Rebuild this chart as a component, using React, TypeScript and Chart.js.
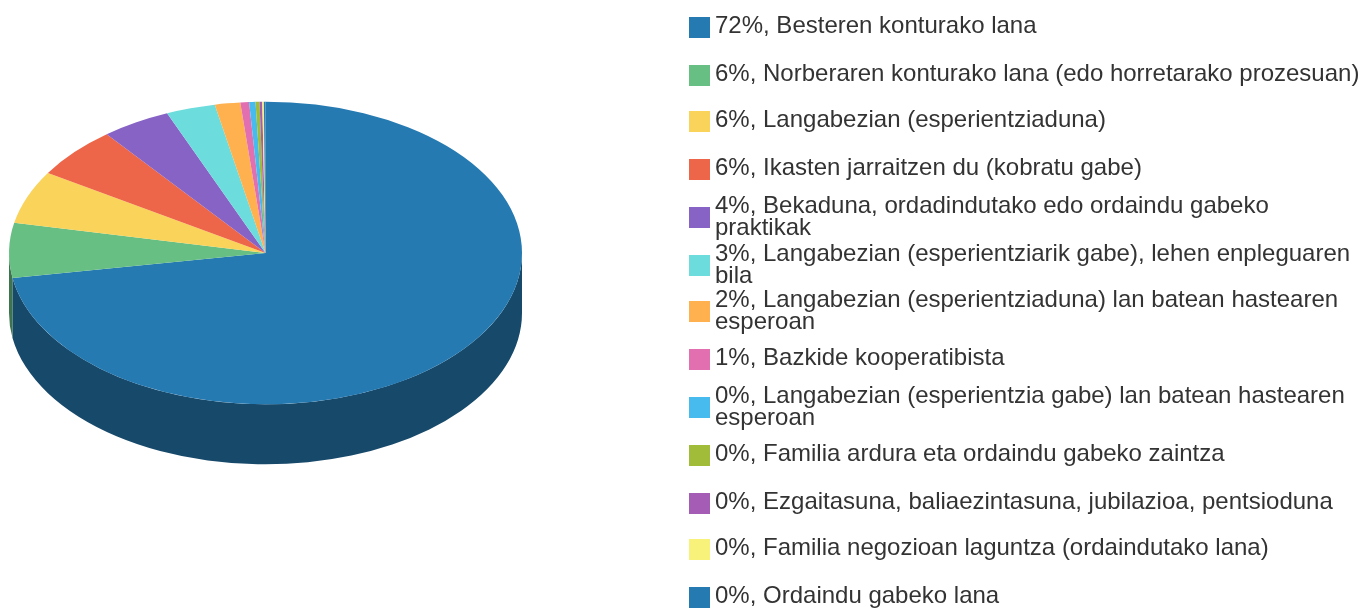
import React, { useEffect, useRef } from "react";
import { Chart, registerables } from "chart.js";

Chart.register(...registerables);

const categories: string[] = [
  "Besteren konturako lana",
  "Norberaren konturako lana (edo horretarako prozesuan)",
  "Langabezian (esperientziaduna)",
  "Ikasten jarraitzen du (kobratu gabe)",
  "Bekaduna, ordadindutako edo ordaindu gabeko praktikak",
  "Langabezian (esperientziarik gabe), lehen enpleguaren bila",
  "Langabezian (esperientziaduna) lan batean hastearen esperoan",
  "Bazkide kooperatibista",
  "Langabezian (esperientzia gabe) lan batean hastearen esperoan",
  "Familia ardura eta ordaindu gabeko zaintza",
  "Ezgaitasuna, baliaezintasuna, jubilazioa, pentsioduna",
  "Familia negozioan laguntza (ordaindutako lana)",
  "Ordaindu gabeko lana",
];
const values: number[] = [72.4, 5.85, 5.67, 5.5, 4.36, 3.1, 1.6, 0.55, 0.4, 0.25, 0.17, 0.1, 0.1];
const colors: string[] = [
  "#267ab2", "#68bf84", "#f9d35a", "#ee6649", "#8763c6", "#6ddcdc", "#ffb14f",
  "#e26fb0", "#48bbee", "#a0bc38", "#a55cb5", "#f8f27a", "#267ab2",
];
const legendLines: string[][] = [
  ["72%, Besteren konturako lana"],
  ["6%, Norberaren konturako lana (edo horretarako prozesuan)"],
  ["6%, Langabezian (esperientziaduna)"],
  ["6%, Ikasten jarraitzen du (kobratu gabe)"],
  ["4%, Bekaduna, ordadindutako edo ordaindu gabeko", "praktikak"],
  ["3%, Langabezian (esperientziarik gabe), lehen enpleguaren", "bila"],
  ["2%, Langabezian (esperientziaduna) lan batean hastearen", "esperoan"],
  ["1%, Bazkide kooperatibista"],
  ["0%, Langabezian (esperientzia gabe) lan batean hastearen", "esperoan"],
  ["0%, Familia ardura eta ordaindu gabeko zaintza"],
  ["0%, Ezgaitasuna, baliaezintasuna, jubilazioa, pentsioduna"],
  ["0%, Familia negozioan laguntza (ordaindutako lana)"],
  ["0%, Ordaindu gabeko lana"],
];

const LEGEND_TOPS = [17, 65, 111, 159, 207, 255, 301, 349, 397, 445, 493, 539, 587];
const SQUASH = 151.3 / 256.5;
const DEPTH = 60;

function darken(hex: string, f: number): string {
  const n = parseInt(hex.slice(1), 16);
  const r = Math.round(((n >> 16) & 255) * f);
  const g = Math.round(((n >> 8) & 255) * f);
  const b = Math.round((n & 255) * f);
  return `rgb(${r},${g},${b})`;
}

const pie3d = {
  id: "pie3d",
  beforeDatasetsDraw(chart: any) {
    const ctx = chart.ctx;
    const arcs = chart.getDatasetMeta(0).data;
    arcs.forEach((arc: any, i: number) => {
      const a0 = Math.max(arc.startAngle, 0);
      const a1 = Math.min(arc.endAngle, Math.PI);
      if (a1 <= a0) return;
      const rx = arc.outerRadius;
      const ry = rx * SQUASH;
      ctx.save();
      ctx.beginPath();
      ctx.ellipse(arc.x, arc.y, rx, ry, 0, a0, a1);
      ctx.ellipse(arc.x, arc.y + DEPTH, rx, ry, 0, a1, a0, true);
      ctx.closePath();
      ctx.fillStyle = darken(colors[i], 0.6);
      ctx.fill();
      ctx.restore();
    });
  },
  beforeDatasetDraw(chart: any) {
    const ctx = chart.ctx;
    const arc = chart.getDatasetMeta(0).data[0];
    ctx.save();
    ctx.translate(arc.x, arc.y);
    ctx.scale(1, SQUASH);
    ctx.translate(-arc.x, -arc.y);
  },
  afterDatasetDraw(chart: any) {
    chart.ctx.restore();
  },
  afterDraw(chart: any) {
    const ctx = chart.ctx;
    ctx.save();
    ctx.font = '24px "Liberation Sans"';
    ctx.textBaseline = "alphabetic";
    legendLines.forEach((lines, i) => {
      const top = LEGEND_TOPS[i];
      ctx.fillStyle = colors[i];
      ctx.fillRect(689, top, 21, 21);
      ctx.fillStyle = "#333333";
      lines.forEach((line, k) => {
        const y = lines.length === 1 ? top + 16 : top + 6 + k * 22;
        ctx.fillText(line, 715, y);
      });
    });
    ctx.restore();
  },
};

export default function App() {
  const ref = useRef<HTMLCanvasElement>(null);
  useEffect(() => {
    const chart = new Chart(ref.current!, {
      type: "doughnut",
      data: {
        labels: categories,
        datasets: [
          {
            data: values,
            backgroundColor: colors,
            borderWidth: 0,
            clip: false,
          } as any,
        ],
      },
      options: {
        responsive: false,
        animation: false,
        cutout: 0,
        radius: 256.5,
        layout: { padding: { left: 9, right: 841, top: 0, bottom: 105 } },
        plugins: { legend: { display: false }, tooltip: { enabled: false } },
      } as any,
      plugins: [pie3d],
    });
    return () => chart.destroy();
  }, []);
  return (
    <canvas
      ref={ref}
      width={1363}
      height={611}
      style={{ position: "absolute", left: 0, top: 0, width: 1363, height: 611, display: "block" }}
    />
  );
}
